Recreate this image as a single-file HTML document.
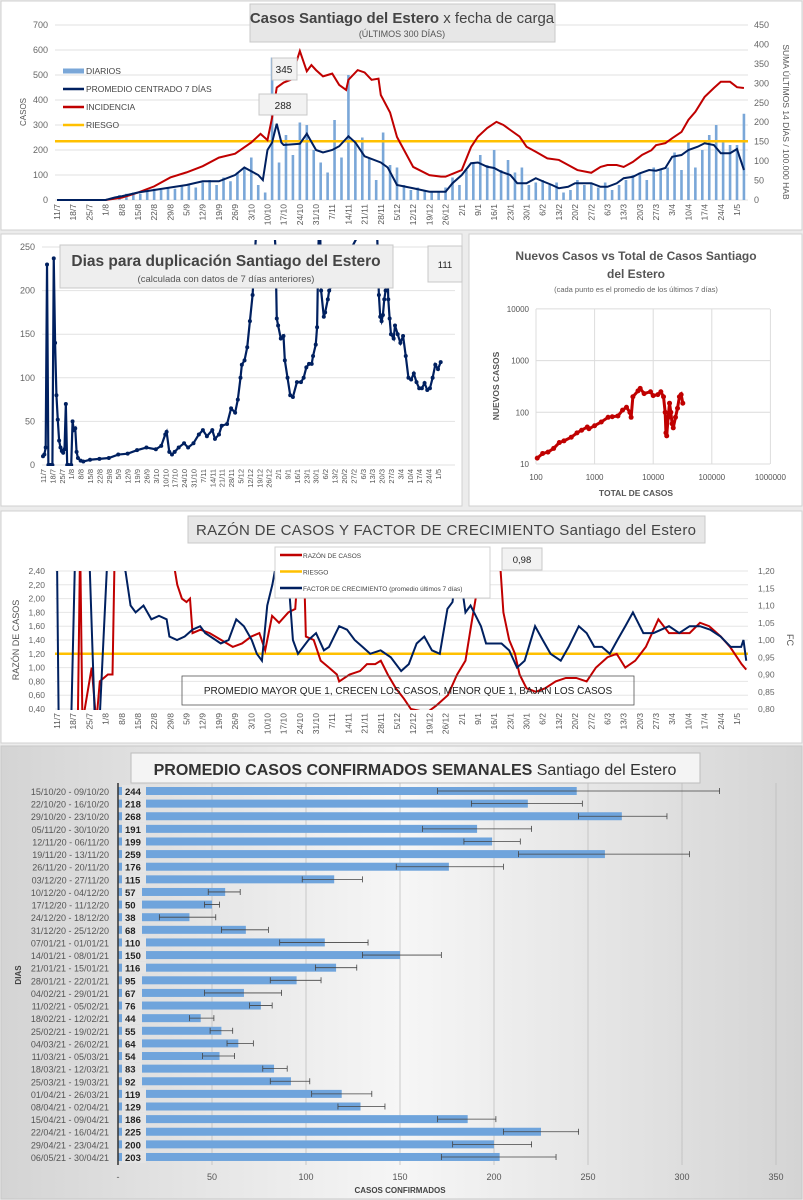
<!DOCTYPE html>
<html><head><meta charset="utf-8"><style>
body{margin:0;background:#ececec;}
svg{display:block;font-family:"Liberation Sans",sans-serif;}
</style></head><body>
<svg id="s" width="803" height="1200" viewBox="0 0 803 1200">
<defs>
<linearGradient id="bg5" x1="0" y1="0" x2="1" y2="0"><stop offset="0" stop-color="#d4d4d4"/><stop offset="0.5" stop-color="#f6f6f6"/><stop offset="1" stop-color="#d4d4d4"/></linearGradient>
<clipPath id="c1"><rect x="55" y="20" width="695" height="181"/></clipPath>
<clipPath id="c2"><rect x="40" y="240" width="420" height="226"/></clipPath>
<clipPath id="c4"><rect x="55" y="571" width="695" height="139"/></clipPath>
</defs>
<rect x="1" y="1" width="801" height="229" fill="#fff" stroke="#d0d0d0"/>
<rect x="1" y="234" width="461" height="272" fill="#fff" stroke="#d0d0d0"/>
<rect x="469" y="234" width="333" height="272" fill="#fff" stroke="#d0d0d0"/>
<rect x="1" y="511" width="801" height="232" fill="#fff" stroke="#d0d0d0"/>
<rect x="1" y="746" width="801" height="453" fill="url(#bg5)" stroke="#c8c8c8"/>
<g id="g1"></g><g id="g2"></g><g id="g3"></g><g id="g4"></g><g id="g5"></g>
</svg>
<script>
// ---------- DATA ----------
const dateLabels=["11/7","18/7","25/7","1/8","8/8","15/8","22/8","29/8","5/9","12/9","19/9","26/9","3/10","10/10","17/10","24/10","31/10","7/11","14/11","21/11","28/11","5/12","12/12","19/12","26/12","2/1","9/1","16/1","23/1","30/1","6/2","13/2","20/2","27/2","6/3","13/3","20/3","27/3","3/4","10/4","17/4","24/4","1/5"];
const dailyCases=[0,0,0,0,0,0,0,2,10,20,25,30,25,35,45,40,50,45,55,60,50,70,80,60,90,75,110,130,170,60,30,570,150,260,180,310,300,200,150,110,320,170,500,240,250,170,80,270,140,130,60,40,50,35,30,30,50,90,60,120,150,180,140,200,120,160,110,130,60,70,80,60,70,30,40,80,60,70,50,70,40,60,80,100,110,80,130,120,130,190,120,230,130,200,260,300,230,220,220,345];
const avgDays=[0,21,25,28,35,42,49,56,63,70,77,81,84,87,89,91,93,95,97,98,105,108,112,115,119,122,126,129,133,140,143,147,154,161,168,171,175,179,182,186,189,192,196,199,203,207,210,214,217,221,224,231,235,238,242,245,249,252,256,259,263,266,270,273,277,280,284,287,291,294,297];
const avgVals=[0,0,10,15,30,40,50,60,75,75,100,130,115,100,80,200,230,305,230,220,225,265,200,190,200,215,255,230,175,150,130,60,47,33,33,67,100,147,150,133,128,113,100,67,67,87,75,60,47,53,67,67,53,53,67,87,93,107,120,117,128,173,180,200,213,227,220,187,187,204,120];
const incDays=[0,21,28,35,42,49,56,63,70,77,84,88,91,93,95,98,101,105,108,110,112,115,119,122,125,126,130,133,136,139,140,144,147,154,161,166,168,175,179,182,186,190,193,196,200,203,207,212,217,221,225,231,235,238,242,245,249,253,257,259,263,266,270,273,276,280,284,287,291,294,297];
const incVals=[0,0,6,19,35,58,71,87,109,119,148,170,154,212,289,302,309,383,331,347,334,318,325,296,283,309,334,328,309,312,270,225,162,85,64,60,60,77,136,163,185,201,193,180,163,137,124,107,103,90,77,70,85,90,90,85,98,116,128,141,146,159,175,206,227,265,288,304,304,290,288];
const riskCases=235;
const dupDays=[0,1,2,3,4,5,6,7,8,9,10,11,12,13,14,15,16,17,18,19,21,22,23,24,25,26,28,30,35,42,49,56,63,70,77,84,88,91,92,94,96,98,101,105,108,112,116,119,122,126,128,131,133,137,140,143,145,147,148,150,152,154,156,158,160,171,173,174,175,177,179,180,182,184,186,189,192,194,196,198,200,201,203,204,205,206,207,209,210,212,213,247,248,249,250,251,252,253,254,255,256,257,258,259,261,262,264,266,268,270,272,274,276,278,280,282,284,286,288,290,292,294,296];
const dupVals=[10,12,20,230,0,0,0,0,237,140,80,52,28,20,16,14,18,70,0,0,0,50,40,42,15,8,5,4,6,7,8,12,13,17,20,18,22,35,38,15,12,15,20,25,20,25,35,40,33,40,30,35,45,47,65,60,75,100,115,120,135,165,195,250,300,300,250,168,160,145,148,120,100,80,78,95,95,100,112,116,116,125,138,158,250,300,200,170,175,190,200,300,300,250,195,170,165,172,190,200,250,190,168,150,145,160,150,140,148,125,100,98,105,95,88,88,94,86,88,100,115,110,118,110];
const dupLast="111";
const totalCases=[105,130,160,200,250,300,400,500,600,750,800,1000,1300,1700,2000,2500,3000,3500,4000,4200,4500,5500,6000,7000,9000,10000,12000,13500,15000,16000,16500,17000,18000,19000,20000,21000,22000,24000,26000,28000,30000,32000];
const newCases=[13,16,17,20,26,28,33,40,45,52,48,55,65,80,82,85,110,125,100,80,200,260,290,230,250,210,220,250,200,100,40,35,80,150,100,60,50,80,120,200,220,150];
const ratioDays=[0,9,10,11,15,17,18.5,22,24,25,50,51,52,54,56,57.5,58.6,62,66,71,76,80,84,87.5,90,93,96,100,103,105,106.5,107.6,111,114,117.6,121,122,126.5,131,134,137.6,140,143,146.5,150,153,160,164,169,173,176.6,179,181,183.3,191,193,195.5,198,200,203,207,211,215.6,220,224.5,229,233,238,242,245.7,250,254.6,260,264.6,269,273.5,278,282,287,291,296,298];
const ratioVals=[0.2,0.2,2.8,0.2,1.0,0.2,0.8,0.9,0.9,2.8,2.8,2.4,2.2,2.0,1.95,2.0,1.5,1.55,1.5,1.4,1.3,1.35,1.45,1.5,1.25,1.75,1.65,1.8,1.85,2.8,2.8,1.45,1.4,1.1,1.0,0.9,0.8,0.9,0.95,1.05,1.05,1.1,0.9,0.7,0.55,0.4,0.35,0.45,0.6,0.9,1.1,1.6,2.0,2.8,2.8,1.8,1.4,1.2,0.9,0.7,0.65,0.7,0.8,0.85,0.85,0.8,1.0,1.15,1.2,1.0,1.1,1.3,1.7,1.5,1.5,1.5,1.65,1.6,1.45,1.3,1.05,0.97];
const fcDays=[0,0.7,6.2,7.8,14,16.3,18.5,21.8,29.6,31.8,34,37.4,40.8,44.1,47.4,48.6,51.9,55.2,58.6,61.9,64.1,68.6,70.8,74.2,77.5,80.8,84.2,86.4,88.6,90.9,93.1,95.3,99.8,102,104.2,108.7,112,115.4,117.6,122,125.4,128.7,132.1,135.4,139.9,144.3,148.8,152.1,155.5,158.8,162.1,165.5,168.8,171,173.3,176.6,178.8,183.3,185.5,188.9,192.2,195.5,198.9,202.2,206.7,210,213.4,217.8,221.2,225.6,229,232.3,235.6,239,242.3,245.7,249,253.5,257.9,264.6,269,273.5,278,282.4,286.9,291.3,295.8,296.8,298];
const fcVals=[1.24,0.78,0.78,1.24,1.24,0.78,0.78,1.24,1.20,1.10,1.08,1.10,1.06,1.07,1.06,1.01,1.00,1.01,1.03,1.04,1.02,1.00,0.99,1.00,1.06,1.04,1.00,0.96,0.94,1.10,1.16,1.24,1.20,1.00,0.96,1.00,1.02,0.97,0.98,1.04,1.03,1.00,0.98,0.96,0.97,0.95,0.91,0.93,0.99,1.01,0.97,0.96,1.09,1.11,1.24,1.08,1.10,1.04,0.99,0.99,0.99,0.97,0.92,0.94,1.04,1.00,0.96,0.94,0.98,1.04,1.02,0.98,0.98,0.96,1.00,1.04,1.08,1.02,1.02,1.04,1.02,1.04,1.04,1.03,1.01,0.98,0.98,1.00,0.94];
const riskRatio=1.2;
const weekLabels=["15/10/20 - 09/10/20","22/10/20 - 16/10/20","29/10/20 - 23/10/20","05/11/20 - 30/10/20","12/11/20 - 06/11/20","19/11/20 - 13/11/20","26/11/20 - 20/11/20","03/12/20 - 27/11/20","10/12/20 - 04/12/20","17/12/20 - 11/12/20","24/12/20 - 18/12/20","31/12/20 - 25/12/20","07/01/21 - 01/01/21","14/01/21 - 08/01/21","21/01/21 - 15/01/21","28/01/21 - 22/01/21","04/02/21 - 29/01/21","11/02/21 - 05/02/21","18/02/21 - 12/02/21","25/02/21 - 19/02/21","04/03/21 - 26/02/21","11/03/21 - 05/03/21","18/03/21 - 12/03/21","25/03/21 - 19/03/21","01/04/21 - 26/03/21","08/04/21 - 02/04/21","15/04/21 - 09/04/21","22/04/21 - 16/04/21","29/04/21 - 23/04/21","06/05/21 - 30/04/21"];
const weekVals=[244,218,268,191,199,259,176,115,57,50,38,68,110,150,116,95,67,76,44,55,64,54,83,92,119,129,186,225,200,203];
const weekLow=[170,188,245,162,184,213,148,98,48,46,22,55,86,130,105,81,46,70,38,49,58,45,77,81,103,117,170,205,178,172];
const weekHigh=[320,247,292,220,214,304,205,130,65,54,52,80,133,172,127,108,87,82,51,61,72,62,90,102,135,142,201,245,220,233];
const weekTicks=["-","50","100","150","200","250","300","350"];

// ---------- HELPERS ----------
const NS="http://www.w3.org/2000/svg";
function mk(par,tag,at){const e=document.createElementNS(NS,tag);for(const k in at)e.setAttribute(k,at[k]);par.appendChild(e);return e;}
function txt(par,x,y,s,at){const e=mk(par,'text',Object.assign({x:x,y:y},at||{}));e.textContent=s;return e;}

// ---------- CHART 1 ----------
const g1=document.getElementById('g1');
const X1=d=>57+d*680/294, YL1=v=>200-v*0.25, YR1=v=>200-v*175/450;
for(let v=0;v<=700;v+=100){const l=mk(g1,'line',{x1:55,x2:748,y1:YL1(v),y2:YL1(v),stroke:'#e2e2e2'});
const t=txt(g1,48,YL1(v)+3,String(v),{'font-size':9,fill:'#666','text-anchor':'end'});}
for(let v=0;v<=450;v+=50){const t=txt(g1,754,YR1(v)+3,String(v),{'font-size':9,fill:'#666'});}
dailyCases.forEach((v,i)=>{const b=mk(g1,'rect',{x:X1(i*3)-1.3,y:YL1(v),width:2.6,height:v*0.25,fill:'#7aa7d8'});});
const c1=mk(g1,'g',{'clip-path':'url(#c1)'});
const rl=mk(c1,'line',{x1:55,x2:748,y1:YL1(riskCases),y2:YL1(riskCases),stroke:'#ffc000','stroke-width':2.5});
const incP=mk(c1,'polyline',{points:incDays.map((d,i)=>X1(d)+','+YR1(incVals[i])).join(' '),fill:'none',stroke:'#c00000','stroke-width':2});
const avgP=mk(c1,'polyline',{points:avgDays.map((d,i)=>X1(d)+','+YL1(avgVals[i])).join(' '),fill:'none',stroke:'#002060','stroke-width':2});
dateLabels.forEach((s,i)=>{const x=X1(i*7);const t=txt(g1,0,0,s,{'font-size':8.5,fill:'#555','text-anchor':'end',transform:`translate(${x+3},204) rotate(-90)`});});
let t=txt(g1,0,0,'CASOS',{'font-size':8,fill:'#555','text-anchor':'middle',transform:'translate(26,112) rotate(-90)'});
t=txt(g1,0,0,'SUMA  ÚLTIMOS 14 DÍAS / 100.000 HAB',{'font-size':8.5,fill:'#555','text-anchor':'middle',transform:'translate(783,122) rotate(90)'});
let r=mk(g1,'rect',{x:250,y:4,width:305,height:38,fill:'#e7e7e7',stroke:'#c8c8c8'});
t=txt(g1,402,23,'',{'font-size':15,fill:'#444','text-anchor':'middle'});t.innerHTML='<tspan font-weight="bold">Casos Santiago del Estero</tspan> x fecha de carga';
t=txt(g1,402,37,'(ÚLTIMOS 300 DÍAS)',{'font-size':9,fill:'#555','text-anchor':'middle'});
const leg1=[['DIARIOS','#7aa7d8',5],['PROMEDIO CENTRADO 7 DÍAS','#002060',2.5],['INCIDENCIA','#c00000',2.5],['RIESGO','#ffc000',2.5]];
leg1.forEach((e,i)=>{const y=71+i*18;const l=mk(g1,'line',{x1:63,x2:84,y1:y,y2:y,stroke:e[1],'stroke-width':e[2]});const tt=txt(g1,86,y+3,e[0],{'font-size':8.5,fill:'#444'});});
r=mk(g1,'rect',{x:272,y:58,width:25,height:22,fill:'#f2f2f2',stroke:'#c8c8c8'});
t=txt(g1,284,73,'345',{'font-size':10,fill:'#222','text-anchor':'middle'});
r=mk(g1,'rect',{x:259,y:94,width:48,height:21,fill:'#f2f2f2',stroke:'#c8c8c8'});
t=txt(g1,283,109,'288',{'font-size':10,fill:'#222','text-anchor':'middle'});

// ---------- CHART 2 ----------
const g2=document.getElementById('g2');
const X2=d=>43+d*395/294, Y2=v=>465-v*0.872;
for(let v=0;v<=250;v+=50){const l=mk(g2,'line',{x1:42,x2:455,y1:Y2(v),y2:Y2(v),stroke:'#e2e2e2'});
const tt=txt(g2,35,Y2(v)+3,String(v),{'font-size':9,fill:'#666','text-anchor':'end'});}
const c2=mk(g2,'g',{'clip-path':'url(#c2)'});
const dp=mk(c2,'polyline',{points:dupDays.map((d,i)=>X2(d)+','+Y2(dupVals[i])).join(' '),fill:'none',stroke:'#002060','stroke-width':2.2});
dupDays.forEach((d,i)=>{const c=mk(c2,'circle',{cx:X2(d),cy:Y2(dupVals[i]),r:2,fill:'#002060'});});
dateLabels.forEach((s,i)=>{const x=X2(i*7);const tt=txt(g2,0,0,s,{'font-size':7.5,fill:'#555','text-anchor':'end',transform:`translate(${x+3},469) rotate(-90)`});});
r=mk(g2,'rect',{x:60,y:245,width:333,height:43,fill:'#eeeeee',stroke:'#c8c8c8'});
t=txt(g2,226,266,'Dias para duplicación Santiago del Estero',{'font-size':15.5,'font-weight':'bold',fill:'#444','text-anchor':'middle'});
t=txt(g2,226,282,'(calculada con datos de 7 días anteriores)',{'font-size':9.5,fill:'#555','text-anchor':'middle'});
r=mk(g2,'rect',{x:428,y:246,width:34,height:36,fill:'#f2f2f2',stroke:'#c8c8c8'});
t=txt(g2,445,268,dupLast,{'font-size':9.5,fill:'#222','text-anchor':'middle'});

// ---------- CHART 3 ----------
const g3=document.getElementById('g3');
const X3=v=>536+(Math.log10(v)-2)*58.6, Y3=v=>464-(Math.log10(v)-1)*51.7;
[100,1000,10000,100000,1000000].forEach(v=>{const l=mk(g3,'line',{x1:X3(v),x2:X3(v),y1:309,y2:464,stroke:'#dcdcdc'});
const tt=txt(g3,X3(v),480,String(v),{'font-size':8,fill:'#555','text-anchor':'middle'});});
[10,100,1000,10000].forEach(v=>{const l=mk(g3,'line',{x1:536,x2:770,y1:Y3(v),y2:Y3(v),stroke:'#dcdcdc'});
const tt=txt(g3,529,Y3(v)+3,String(v),{'font-size':8,fill:'#555','text-anchor':'end'});});
const sp=mk(g3,'polyline',{points:totalCases.map((v,i)=>X3(v)+','+Y3(newCases[i])).join(' '),fill:'none',stroke:'#c00000','stroke-width':3});
totalCases.forEach((v,i)=>{const c=mk(g3,'circle',{cx:X3(v),cy:Y3(newCases[i]),r:2.5,fill:'#c00000'});});
t=txt(g3,636,260,'Nuevos Casos vs Total de Casos Santiago',{'font-size':12,'font-weight':'bold',fill:'#555','text-anchor':'middle'});
t=txt(g3,636,278,'del Estero',{'font-size':12,'font-weight':'bold',fill:'#555','text-anchor':'middle'});
t=txt(g3,636,292,'(cada punto es el promedio de los últimos 7 días)',{'font-size':7.5,fill:'#666','text-anchor':'middle'});
t=txt(g3,636,496,'TOTAL DE CASOS',{'font-size':8.5,'font-weight':'bold',fill:'#555','text-anchor':'middle'});
t=txt(g3,0,0,'NUEVOS CASOS',{'font-size':8.5,'font-weight':'bold',fill:'#555','text-anchor':'middle',transform:'translate(499,386) rotate(-90)'});

// ---------- CHART 4 ----------
const g4=document.getElementById('g4');
const YL4=v=>571+(2.4-v)*69, YR4=f=>571+(1.2-f)*345;
for(let k=0;k<=10;k++){const v=0.4+k*0.2;const l=mk(g4,'line',{x1:55,x2:748,y1:YL4(v),y2:YL4(v),stroke:'#e6e6e6'});
const tt=txt(g4,45,YL4(v)+3,v.toFixed(2).replace('.',','),{'font-size':8.5,fill:'#666','text-anchor':'end'});}
for(let k=0;k<=8;k++){const f=0.8+k*0.05;const tt=txt(g4,758,YR4(f)+3,f.toFixed(2).replace('.',','),{'font-size':8.5,fill:'#666'});}
const c4=mk(g4,'g',{'clip-path':'url(#c4)'});
const rr=mk(c4,'line',{x1:55,x2:748,y1:YL4(riskRatio),y2:YL4(riskRatio),stroke:'#ffc000','stroke-width':2.5});
const ratP=mk(c4,'polyline',{points:ratioDays.map((d,i)=>X1(d)+','+YL4(ratioVals[i])).join(' '),fill:'none',stroke:'#c00000','stroke-width':2});
const fcP=mk(c4,'polyline',{points:fcDays.map((d,i)=>X1(d)+','+YR4(fcVals[i])).join(' '),fill:'none',stroke:'#002060','stroke-width':2});
dateLabels.forEach((s,i)=>{const x=X1(i*7);const tt=txt(g4,0,0,s,{'font-size':8.5,fill:'#555','text-anchor':'end',transform:`translate(${x+3},713) rotate(-90)`});});
t=txt(g4,0,0,'RAZÓN DE CASOS',{'font-size':9,fill:'#555','text-anchor':'middle',transform:'translate(19,640) rotate(-90)'});
t=txt(g4,0,0,'FC',{'font-size':9,fill:'#555','text-anchor':'middle',transform:'translate(787,640) rotate(90)'});
r=mk(g4,'rect',{x:188,y:516,width:517,height:27,fill:'#e7e7e7',stroke:'#c8c8c8'});
t=txt(g4,446,535,'RAZÓN DE CASOS Y FACTOR DE CRECIMIENTO Santiago del Estero',{'font-size':15,fill:'#444','text-anchor':'middle','textLength':500});
r=mk(g4,'rect',{x:275,y:547,width:215,height:51,fill:'#fff',stroke:'#d0d0d0'});
[['RAZÓN DE CASOS','#c00000'],['RIESGO','#ffc000'],['FACTOR DE CRECIMIENTO (promedio últimos 7 días)','#002060']].forEach((e,i)=>{const y=555+i*16.5;const l=mk(g4,'line',{x1:280,x2:302,y1:y,y2:y,stroke:e[1],'stroke-width':2.5});const tt=txt(g4,303,y+3,e[0],{'font-size':6.5,fill:'#444'});});
r=mk(g4,'rect',{x:502,y:548,width:40,height:22,fill:'#f2f2f2',stroke:'#c8c8c8'});
t=txt(g4,522,563,'0,98',{'font-size':9.5,fill:'#222','text-anchor':'middle'});
r=mk(g4,'rect',{x:182,y:676,width:452,height:29,fill:'none',stroke:'#555','stroke-width':0.8});
t=txt(g4,408,694,'PROMEDIO MAYOR QUE 1, CRECEN LOS CASOS, MENOR QUE 1, BAJAN LOS CASOS',{'font-size':10,fill:'#222','text-anchor':'middle'});

// ---------- CHART 5 ----------
const g5=document.getElementById('g5');
const X5=v=>118+v*1.88, Y5=i=>791+i*12.62;
weekTicks.forEach((s,i)=>{const x=X5(i*50);if(i>0){const l=mk(g5,'line',{x1:x,x2:x,y1:783,y2:1165,stroke:'#b8b8b8','stroke-width':0.7});}
const tt=txt(g5,x,1180,s,{'font-size':9,fill:'#555','text-anchor':'middle'});});
weekVals.forEach((v,i)=>{const y=Y5(i);
const b=mk(g5,'rect',{x:118,y:y-4,width:v*1.88,height:8,fill:'#6fa4dc'});
const e=mk(g5,'path',{d:`M${X5(weekLow[i])},${y}H${X5(weekHigh[i])}M${X5(weekLow[i])},${y-3}v6M${X5(weekHigh[i])},${y-3}v6`,stroke:'#444','stroke-width':0.8,fill:'none'});
const bx=mk(g5,'rect',{x:122,y:y-6,width:v>=100?24:20,height:12,fill:'#e4e4e4'});
const vl=txt(g5,125,y+4,String(v),{'font-size':9.5,'font-weight':'bold',fill:'#222'});
const cl=txt(g5,109,y+4,weekLabels[i],{'font-size':9,fill:'#555','text-anchor':'end'});});
let ax=mk(g5,'line',{x1:118,x2:118,y1:783,y2:1165,stroke:'#333','stroke-width':1.5});
r=mk(g5,'rect',{x:131,y:753,width:569,height:30,fill:'#f4f4f4',stroke:'#bdbdbd'});
t=txt(g5,415,775,'',{'font-size':16,fill:'#333','text-anchor':'middle','font-weight':'bold'});t.innerHTML='PROMEDIO CASOS CONFIRMADOS SEMANALES <tspan font-weight="normal">Santiago del Estero</tspan>';
t=txt(g5,400,1193,'CASOS CONFIRMADOS',{'font-size':8,'font-weight':'bold',fill:'#444','text-anchor':'middle'});
t=txt(g5,0,0,'DIAS',{'font-size':8,'font-weight':'bold',fill:'#444','text-anchor':'middle',transform:'translate(21,975) rotate(-90)'});
</script>
</body></html>
